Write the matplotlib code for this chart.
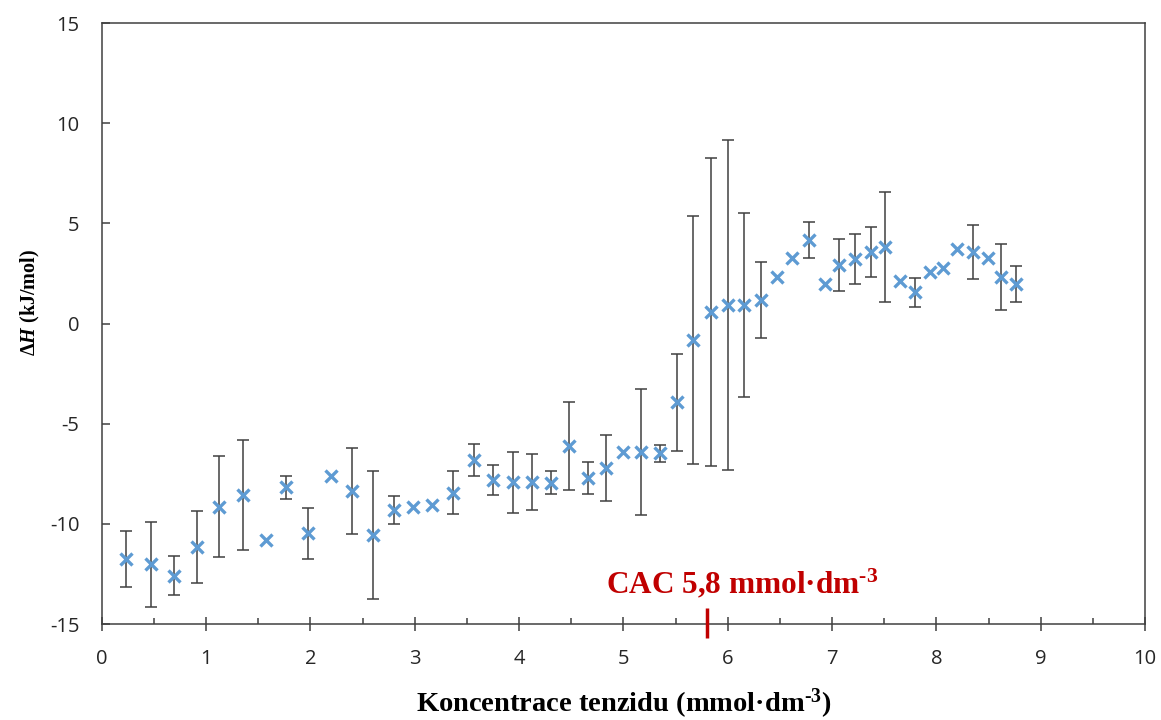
import numpy as np
import matplotlib
matplotlib.use("Agg")
import matplotlib.pyplot as plt
from matplotlib.ticker import MultipleLocator

plt.rcParams['mathtext.fontset'] = 'custom'
plt.rcParams['mathtext.rm'] = 'Liberation Serif:bold'
plt.rcParams['mathtext.bf'] = 'Liberation Serif:bold'
plt.rcParams['mathtext.it'] = 'Liberation Serif:bold:italic'
plt.rcParams['axes.unicode_minus'] = False

conc = [0.23, 0.47, 0.69, 0.91, 1.12, 1.35, 1.57, 1.77, 1.98, 2.20,
        2.40, 2.60, 2.80, 2.98, 3.17, 3.37, 3.57, 3.75, 3.94, 4.12,
        4.31, 4.48, 4.66, 4.83, 5.00, 5.17, 5.35, 5.51, 5.67, 5.84,
        6.00, 6.16, 6.32, 6.47, 6.62, 6.78, 6.93, 7.07, 7.22, 7.37,
        7.51, 7.65, 7.79, 7.94, 8.06, 8.20, 8.35, 8.49, 8.62, 8.76]
dH = [-11.77, -12.02, -12.59, -11.14, -9.15, -8.56, -10.81, -8.18, -10.47, -7.61,
      -8.35, -10.56, -9.31, -9.15, -9.06, -8.45, -6.81, -7.81, -7.93, -7.93,
      -7.95, -6.12, -7.71, -7.20, -6.40, -6.40, -6.48, -3.93, -0.82, 0.59,
      0.92, 0.92, 1.17, 2.32, 3.26, 4.17, 1.97, 2.92, 3.22, 3.58,
      3.83, 2.14, 1.56, 2.56, 2.76, 3.72, 3.58, 3.26, 2.31, 1.97]
err = [1.40, 2.12, 0.97, 1.80, 2.52, 2.76, np.nan, 0.56, 1.27, np.nan,
       2.16, 3.18, 0.69, np.nan, np.nan, 1.08, 0.80, 0.77, 1.52, 1.40,
       0.57, 2.20, 0.78, 1.66, np.nan, 3.15, 0.44, 2.41, 6.20, 7.68,
       8.24, 4.59, 1.90, np.nan, np.nan, 0.89, np.nan, 1.32, 1.24, 1.24,
       2.76, np.nan, 0.71, np.nan, np.nan, np.nan, 1.35, np.nan, 1.64, 0.91]
cac = 5.8
cac_label = r'CAC 5,8 mmol·dm$^{\text{-3}}$'
xlabel = r'Koncentrace tenzidu (mmol·dm$^{\text{-3}}$)'
ylabel = r'$\mathit{ΔH}$ (kJ/mol)'

fig = plt.figure(figsize=(11.61, 7.2), dpi=100)
ax = fig.add_axes([0.0876, 0.1333, 0.8987, 0.8347])

x = np.array(conc)
y = np.array(dH)
e = np.array(err)
m = ~np.isnan(e)
ax.errorbar(x[m], y[m], yerr=e[m], fmt='none', ecolor='#404040',
            elinewidth=1.1, capsize=4.5, capthick=1.1, zorder=2)
ax.plot(x, y, linestyle='none', marker='x', markersize=8,
        markeredgewidth=2.4, color='#5E9BD3', zorder=3)

ax.set_xlim(0, 10)
ax.set_ylim(-15, 15)
ax.xaxis.set_major_locator(MultipleLocator(1))
ax.xaxis.set_minor_locator(MultipleLocator(0.5))
ax.yaxis.set_major_locator(MultipleLocator(5))

for s in ax.spines.values():
    s.set_color('#404040')
    s.set_linewidth(1.1)

ax.tick_params(axis='x', which='major', direction='inout', length=10, width=1.1,
               color='#404040', pad=13, labelsize=14.5, labelcolor='#262626')
ax.tick_params(axis='x', which='minor', direction='in', length=4, width=1.1,
               color='#404040')
ax.tick_params(axis='y', which='major', direction='in', length=6, width=1.1,
               color='#404040', pad=16, labelsize=14.5, labelcolor='#262626')
for lbl in ax.get_xticklabels() + ax.get_yticklabels():
    lbl.set_family('Open Sans')

ax.set_xlabel(xlabel, family='Liberation Serif', fontweight='bold', fontsize=20.5)
ax.set_ylabel(ylabel, family='Liberation Serif', fontweight='bold', fontsize=14.5)
ax.xaxis.set_label_coords(0.5, -0.104)
ax.yaxis.set_label_coords(-0.057, 0.535)

ax.plot([cac, cac], [-14.2, -15.7], color='#C00000', linewidth=2.5,
        clip_on=False, zorder=4, solid_capstyle='butt')
ax.text(cac + 0.34, -13.45, cac_label, color='#C00000', family='Liberation Serif',
        fontweight='bold', fontsize=22.5, ha='center', va='baseline')

fig.savefig('out.png', dpi=100)
